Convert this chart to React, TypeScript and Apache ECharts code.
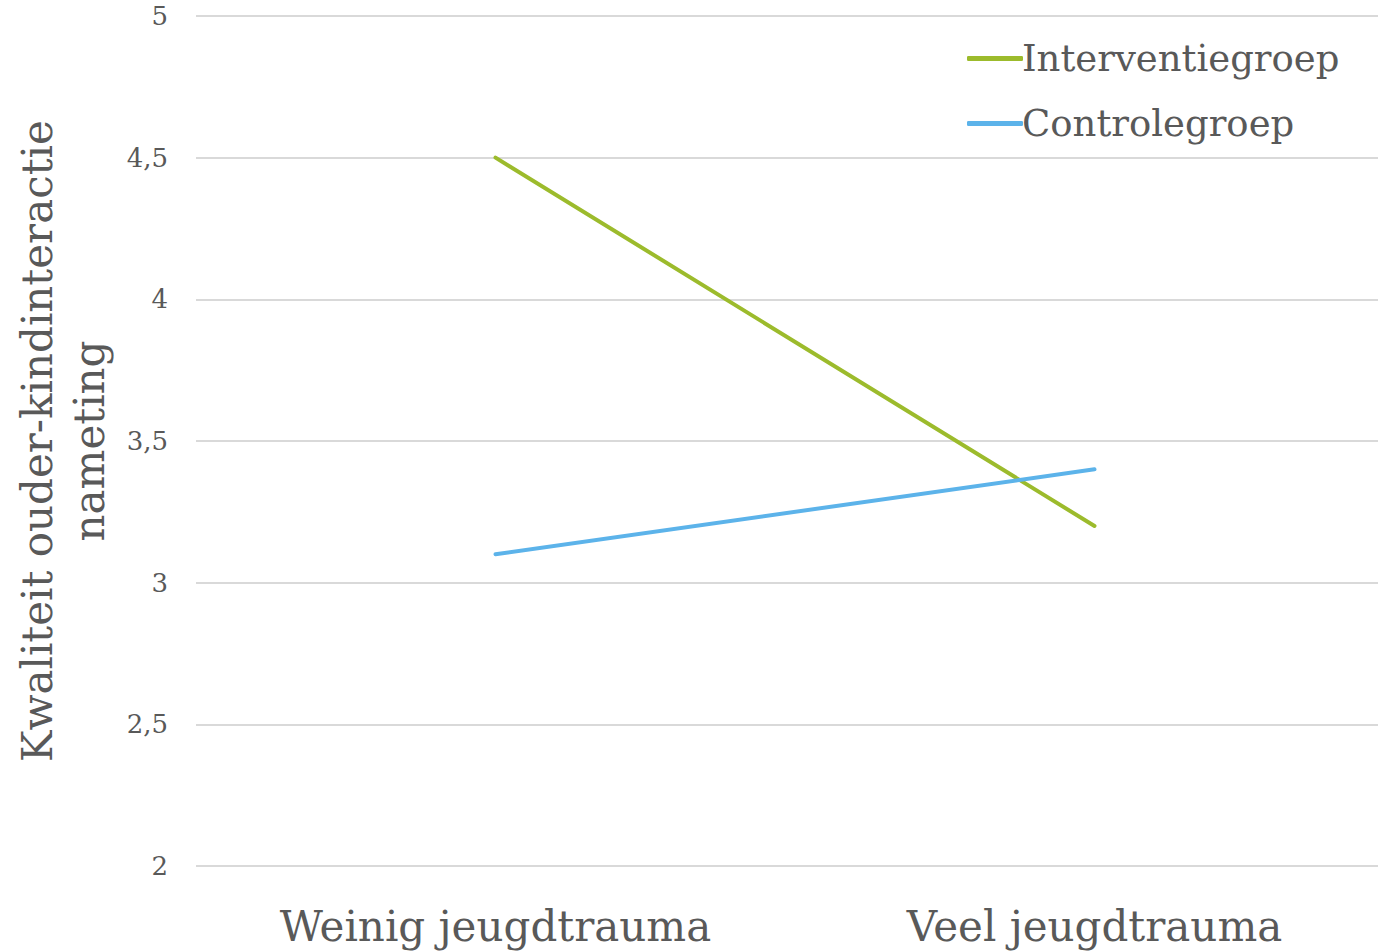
import React, { useEffect, useRef } from "react";
import * as echarts from "echarts";

const categories = ["Weinig jeugdtrauma", "Veel jeugdtrauma"];
const interventie = [4.5, 3.2];
const controle = [3.1, 3.4];
const seriesNames = ["Interventiegroep", "Controlegroep"];
const yAxisTitle = "Kwaliteit ouder-kindinteractie\nnameting";

const FONT = "DejaVu Serif";
const TEXT = "#595959";

export default function App() {
  const ref = useRef<HTMLDivElement>(null);
  useEffect(() => {
    if (!ref.current) return;
    const chart = echarts.init(ref.current, null, { renderer: "svg" });
    chart.setOption({
      animation: false,
      backgroundColor: "#ffffff",
      grid: { left: 196, right: -16, top: 16, bottom: 85, outerBoundsMode: "none", containLabel: false },
      legend: {
        orient: "vertical",
        left: 962,
        top: 35,
        itemWidth: 56,
        itemHeight: 5,
        itemGap: 28,
        icon: "roundRect",
        textStyle: { fontFamily: FONT, fontSize: 37, color: TEXT, padding: [0, 0, 0, -6] },
        data: seriesNames,
      },
      xAxis: {
        type: "category",
        data: categories,
        boundaryGap: true,
        axisLine: { show: false },
        axisTick: { show: false },
        axisLabel: { fontFamily: FONT, fontSize: 42, color: TEXT, margin: 39 },
      },
      yAxis: {
        type: "value",
        min: 2,
        max: 5,
        interval: 0.5,
        name: yAxisTitle,
        nameLocation: "middle",
        nameGap: 74,
        nameTextStyle: { fontFamily: FONT, fontSize: 42, color: TEXT, lineHeight: 52 },
        axisLine: { show: false },
        axisTick: { show: false },
        splitLine: { lineStyle: { color: "#d9d9d9", width: 2 } },
        axisLabel: {
          fontFamily: FONT,
          fontSize: 26,
          color: TEXT,
          margin: 28,
          padding: [10, 0, 0, 0],
          formatter: (v: number) => String(v).replace(".", ","),
        },
      },
      series: [
        {
          name: seriesNames[0],
          type: "line",
          data: interventie,
          symbol: "none",
          lineStyle: { color: "#9cbb2c", width: 4, cap: "round" },
          itemStyle: { color: "#9cbb2c" },
        },
        {
          name: seriesNames[1],
          type: "line",
          data: controle,
          symbol: "none",
          lineStyle: { color: "#5cb3ea", width: 4, cap: "round" },
          itemStyle: { color: "#5cb3ea" },
        },
      ],
    });
    return () => chart.dispose();
  }, []);
  return (
    <div
      ref={ref}
      style={{ position: "fixed", left: 0, top: 0, width: 1378, height: 951 }}
    />
  );
}
